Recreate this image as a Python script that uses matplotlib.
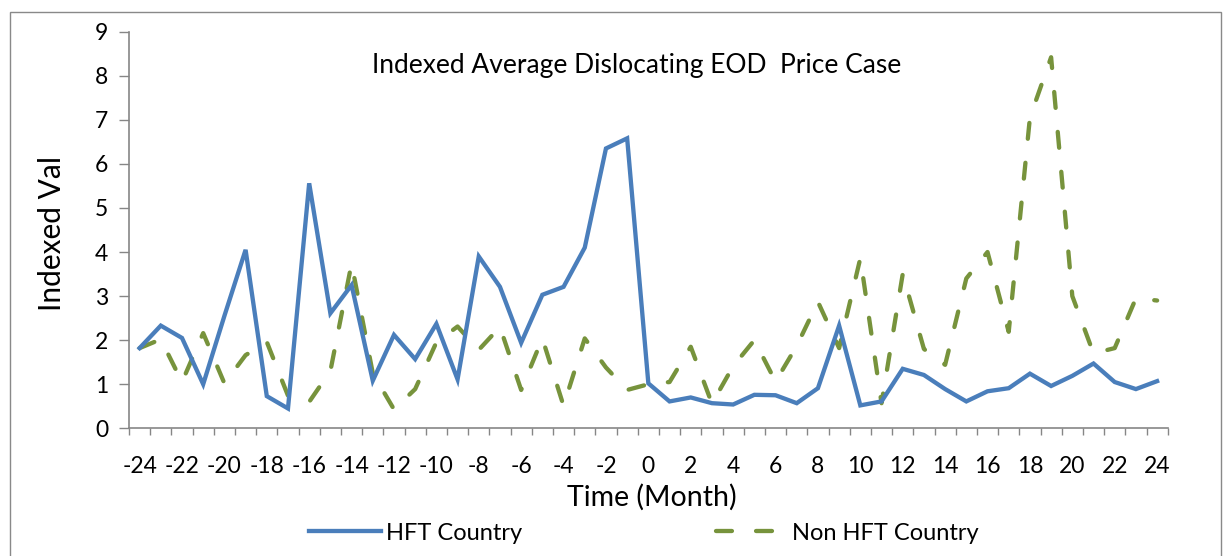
import matplotlib
matplotlib.use("Agg")
import matplotlib.pyplot as plt
from matplotlib.patches import Rectangle
import numpy as np

months = list(range(-24, 25))
hft_country = [1.82, 2.33, 2.05, 1.00, 2.55, 4.05, 0.73, 0.45, 5.56, 2.61,
               3.25, 1.08, 2.12, 1.57, 2.37, 1.11, 3.90, 3.21, 1.94, 3.03,
               3.21, 4.10, 6.35, 6.58, 1.02, 0.61, 0.70, 0.57, 0.54, 0.76,
               0.75, 0.57, 0.91, 2.33, 0.52, 0.61, 1.35, 1.21, 0.89, 0.61,
               0.84, 0.91, 1.24, 0.96, 1.19, 1.47, 1.05, 0.89, 1.07]
non_hft_country = [1.82, 2.02, 1.05, 2.16, 1.02, 1.66, 1.96, 0.74, 0.60, 1.30,
                   3.74, 1.25, 0.43, 0.89, 1.95, 2.31, 1.78, 2.30, 0.87, 2.04,
                   0.51, 2.04, 1.38, 0.87, 1.00, 1.05, 1.85, 0.56, 1.41, 2.00,
                   1.06, 1.87, 2.87, 1.82, 3.86, 0.57, 3.50, 1.80, 1.44, 3.40,
                   4.00, 2.19, 7.05, 8.42, 3.00, 1.70, 1.82, 2.95, 2.90]
x_labels = [str(m) for m in range(-24, 25, 2)]
y_ticks = list(range(0, 10))

title = "Indexed Average Dislocating EOD  Price Case"
blue = "#4A7EBB"
green = "#77933C"
axis_gray = "#868686"

plt.rcParams['font.family'] = ['Lato', 'DejaVu Sans']

fig = plt.figure(figsize=(12.25, 5.56), dpi=100)
ax = fig.add_axes([129/1225, 1 - 428.3/556, (1167.7-129)/1225, (428.3-31.7)/556])

lw = 3.1
ax.plot(months, hft_country, color=blue, lw=lw, solid_joinstyle='miter',
        label="HFT Country", zorder=3)
ax.plot(months, non_hft_country, color=green, lw=lw, dashes=(3.7, 5.6),
        dash_capstyle='round', label="Non HFT Country", zorder=2)

ax.set_xlim(-24.5, 24.5)
ax.set_ylim(0, 9)
ax.set_yticks(y_ticks)
ax.set_xticks(list(range(-24, 25, 2)))
ax.set_xticklabels(x_labels)
ax.set_xticks(np.arange(-24.5, 25.0, 1.0), minor=True)
ax.tick_params(axis='x', which='major', length=0, pad=20, labelsize=16.5)
ax.tick_params(axis='x', which='minor', length=5, width=1, color=axis_gray)
ax.tick_params(axis='y', length=7, width=1, color=axis_gray, pad=8, labelsize=16.5)

for s in ['top', 'right']:
    ax.spines[s].set_visible(False)
for s in ['left', 'bottom']:
    ax.spines[s].set_color(axis_gray)
    ax.spines[s].set_linewidth(1.2)

ax.text(0.489, 0.916, title, transform=ax.transAxes, ha='center', va='center',
        fontsize=19)
fig.text(52/1225, 1 - 233/556, "Indexed Val", rotation=90, ha='center',
         va='center', fontsize=21.5)
fig.text(652/1225, 1 - 497/556, "Time (Month)", ha='center', va='center',
         fontsize=20.5)

fig.legend(loc='center', bbox_to_anchor=(644/1225, 1 - 533/556), ncol=2,
           frameon=False, fontsize=17, handlelength=3.05, handletextpad=0.2,
           columnspacing=8.2)

fig.patches.append(Rectangle((10/1225, -0.05), (1221-10)/1225, 1.05 - 12/556,
                             transform=fig.transFigure, fill=False,
                             edgecolor='#898989', lw=1))

fig.savefig("out.png", dpi=100)
